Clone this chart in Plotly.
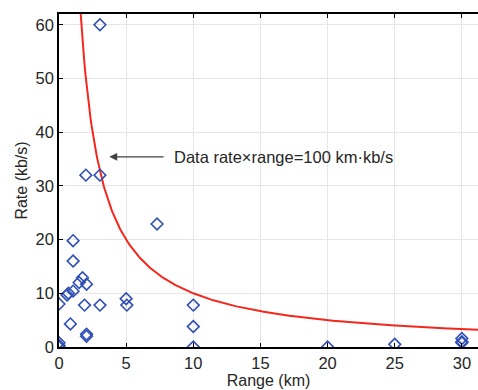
import numpy as np
import plotly.graph_objects as go

# Measured data points (range km, rate kb/s)
range_km = [0, 0, 0, 0, 0.6, 0.7, 1.05, 0.85, 1.05, 1.05, 1.5, 1.75, 2.05, 1.9, 2.05, 2.05,
            3.05, 5.0, 5.05, 7.3, 10.0, 10.0, 10.0, 20.0, 25.0, 30.0, 30.0, 30.0,
            3.05, 2.0, 3.05]
rate_kbps = [8, 0.8, 0.3, 0, 9.7, 10.0, 10.4, 4.3, 19.8, 16.0, 12.0, 12.9, 11.7, 7.8, 2.4, 2.0,
             7.8, 9.0, 7.8, 22.9, 7.8, 3.8, 0, 0, 0.5, 1.6, 1.0, 0.8,
             60, 32, 32]

# Reference curve: rate * range = 100 km*kb/s
product = 100
curve_x = np.linspace(product / 62.5, 31.5, 400)
curve_y = product / curve_x

x_ticks = [0, 5, 10, 15, 20, 25, 30]
y_ticks = [0, 10, 20, 30, 40, 50, 60]

fig = go.Figure()
fig.add_trace(go.Scatter(x=curve_x, y=curve_y, mode="lines",
                         line=dict(color="#F5271C", width=2), hoverinfo="skip"))
fig.add_trace(go.Scatter(x=range_km, y=rate_kbps, mode="markers",
                         marker=dict(symbol="diamond-open", size=9,
                                     color="#2F4FB5", line=dict(width=1.6, color="#2F4FB5"))))

fig.add_annotation(x=3.75, y=35.4, ax=7.9, ay=35.4, axref="x", ayref="y",
                   xref="x", yref="y", showarrow=True, arrowhead=2, arrowsize=1.2,
                   arrowwidth=1.3, arrowcolor="#404040", text="")
fig.add_annotation(x=8.45, y=35.4, xref="x", yref="y", text="Data rate×range=100 km·kb/s",
                   showarrow=False, xanchor="left", yanchor="middle",
                   font=dict(size=16.5, color="#262626"))

axis_font = dict(family="Liberation Sans, Arial, sans-serif", size=16.5, color="#262626")

fig.update_layout(
    width=478, height=390,
    margin=dict(l=59, r=0, t=14, b=43),
    paper_bgcolor="white", plot_bgcolor="white",
    showlegend=False,
    font=dict(family="Liberation Sans, Arial, sans-serif", color="#262626"),
    xaxis=dict(range=[0, 31.2], tickvals=x_ticks, ticks="inside", ticklen=4,
               tickcolor="black", showline=True, linecolor="black", linewidth=1.5,
               mirror="ticks", showgrid=True, gridcolor="#E6E6E6", gridwidth=1,
               zeroline=False, tickfont=axis_font,
               title=dict(text="Range (km)", font=dict(size=16, color="#262626"), standoff=2)),
    yaxis=dict(range=[0, 62], tickvals=y_ticks, ticks="inside", ticklen=4,
               tickcolor="black", showline=True, linecolor="black", linewidth=1.5,
               showgrid=True, gridcolor="#E6E6E6", gridwidth=1,
               zeroline=False, tickfont=axis_font,
               title=dict(text="Rate (kb/s)", font=dict(size=16, color="#262626"), standoff=4)),
)

fig.write_html("out.html", config={"displayModeBar": False})
